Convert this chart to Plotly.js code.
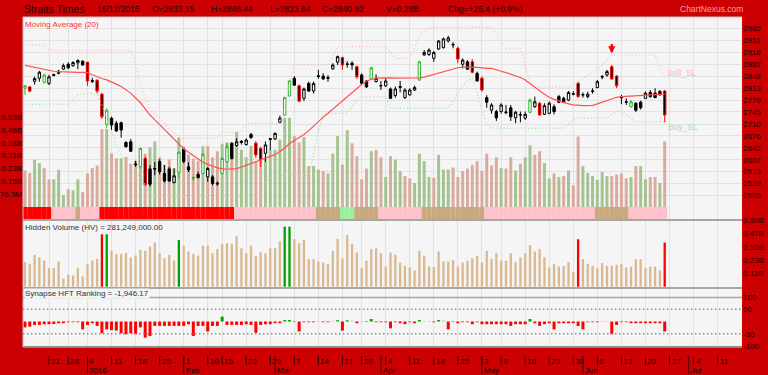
<!DOCTYPE html>
<html><head><meta charset="utf-8">
<script src="https://cdn.plot.ly/plotly-3.0.1.min.js"></script>
<style>html,body{margin:0;padding:0;background:#cc0000;}#chart{width:768px;height:375px;}</style>
</head><body><div id="chart"></div>
<script>
// ---------------- DATA (trading-day index 0 = 21 Dec 2015) ----------------
const FIRST_DAY = -5;
const open = [2813,2817,2833.15,2842,2830,
 2827,2850,2856,2868,2882, 2878,2886,2891,2888,2835, 2836,2796,2709,2727,2712,
 2714,2657,2659,2595,2587, 2611,2581,2580,2602,2568, 2581,2542,2571,2638,2587,
 2553,2565,2568,2558,2558, 2540,2568,2602,2655,2648, 2657,2651,2680,2655,2640,
 2626,2668,2667,2715,2736, 2791,2842,2820,2784,2827, 2805,2849,2848,2844,2869,
 2888,2901,2883,2885,2875, 2851,2834,2839,2832,2821, 2820,2811,2792,2818,2786,
 2794,2808,2837,2909,2910, 2899,2926,2930,2949,2939, 2928,2882,2889,2889,2856,
 2842,2786,2750,2746,2746, 2745,2757,2728,2737,2727, 2744,2760,2770,2738,2741,
 2760,2789,2784,2779,2797, 2827,2795,2789,2804,2815, 2845,2851,2875,2848,2787,
 2774,2760,2770,2773,2784, 2801,2799,2804,2805];
const high = [2822,2819,2846.44,2863,2855,
 2851,2855,2866,2884,2888, 2891,2896,2893,2889,2843, 2839,2800,2755,2731,2719,
 2717,2661,2667,2604,2642, 2616,2592,2601,2609,2592, 2587,2582,2630,2642,2600,
 2560,2573,2626,2586,2563, 2545,2616,2655,2658,2669, 2664,2669,2685,2661,2645,
 2660,2670,2686,2734,2789, 2837,2848,2824,2815,2832, 2832,2866,2856,2851,2885,
 2907,2904,2891,2891,2878, 2856,2837,2875,2853,2834, 2843,2815,2818,2834,2813,
 2813,2821,2892,2923,2928, 2920,2952,2959,2964,2946, 2933,2899,2894,2897,2861,
 2847,2793,2770,2751,2770, 2765,2765,2748,2746,2746, 2784,2789,2773,2770,2775,
 2767,2794,2789,2805,2805, 2832,2801,2803,2813,2837, 2851,2866,2880,2851,2794,
 2784,2779,2773,2777,2804, 2808,2813,2808,2808];
const low = [2794,2802,2823.64,2832,2827,
 2822,2847,2853,2866,2868, 2875,2868,2878,2820,2828, 2798,2725,2698,2693,2688,
 2671,2642,2630,2587,2582, 2533,2530,2563,2565,2542, 2544,2539,2554,2597,2572,
 2548,2553,2565,2544,2534, 2533,2565,2598,2608,2645, 2651,2648,2668,2613,2587,
 2602,2635,2664,2712,2734, 2789,2820,2773,2776,2803, 2798,2840,2837,2832,2866,
 2880,2866,2872,2866,2840, 2824,2814,2837,2830,2808, 2817,2782,2786,2801,2782,
 2792,2805,2834,2906,2906, 2889,2923,2927,2945,2928, 2885,2870,2866,2856,2832,
 2803,2757,2740,2719,2740, 2738,2719,2712,2715,2722, 2741,2757,2734,2736,2738,
 2738,2770,2770,2776,2793, 2786,2786,2784,2798,2813, 2839,2846,2837,2813,2767,
 2765,2757,2745,2752,2782, 2786,2786,2792,2715];
const close = [2820,2805,2840.92,2859,2851,
 2846,2852,2862,2878,2872, 2887,2893,2880,2834,2833, 2805,2731,2750,2707,2690,
 2693,2645,2632,2593,2640, 2535,2537,2582,2573,2546, 2546,2561,2629,2602,2578,
 2556,2556,2623,2582,2539, 2538,2611,2645,2611,2659, 2660,2664,2671,2621,2607,
 2650,2666,2683,2727,2786, 2834,2822,2776,2811,2805, 2827,2847,2840,2842,2880,
 2904,2880,2882,2880,2846, 2827,2817,2872,2842,2820, 2834,2784,2811,2816,2808,
 2808,2815,2889,2916,2923, 2916,2949,2955,2958,2938, 2897,2894,2868,2859,2834,
 2808,2773,2765,2728,2765, 2743,2731,2744,2736,2738, 2779,2774,2736,2763,2770,
 2746,2773,2773,2801,2796, 2789,2794,2796,2805,2832, 2847,2861,2840,2820,2786,
 2773,2774,2750,2757,2799, 2789,2786,2794,2736];
// candle marking as drawn: w = hollow black, b = filled black, g = hollow green, r = filled red-outlined
const candleKind = ("grwwg"+"wbwwb"+"wwbrb"+"rrgbb"+"bbbbg"+"rbbbb"+"bwgbb"+"gbgwb"+"bggbw"+"bwbrr"+
 "wbwwg"+"gbrwb"+"wbbbw"+"wrbbr"+"bbgwb"+"wbwbw"+"wwgww"+"wwwwb"+"rwbrb"+"rbwbw"+
 "bbwbw"+"gwrww"+"bbbwb"+"rbwbw"+"bwrrb"+"bgbbw"+"bbbr").split("");
// volume in millions of shares
const volume = [217,202,281,260,231,
 164,164,222,70,105, 99,164,90,199,231, 246,462,462,318,289,
 289,298,257,275,325, 316,354,389,295,251, 281,231,412,360,310,
 287,275,360,362,295, 331,375,383,378,447, 340,295,362,272,304,
 295,339,339,400,529, 529,420,383,415,243, 243,222,213,199,316,
 421,251,456,378,301, 164,228,331,339,295, 178,301,281,213,184,
 170,143,316,272,178, 173,310,222,222,234, 178,213,228,251,272,
 216,316,246,295,231, 228,295,216,257,295, 366,310,331,260,170,
 199,178,184,216,129, 418,243,202,184,161, 208,184,184,193,199,
 170,178,243,243,164, 178,178,143,389];
const ma20 = [2879,2876,2873,2870,2867,
 2864,2862,2861,2860,2859, 2859,2859,2859,2858,2852, 2846,2841,2837,2832,2825,
 2818,2809,2799,2785,2772, 2754,2736,2722,2708,2695, 2681,2667,2653,2639,2629,
 2619,2608,2600,2594,2589, 2584,2582,2580,2581,2582, 2586,2591,2596,2601,2606,
 2610,2615,2622,2631,2641, 2654,2663,2670,2680,2691, 2704,2718,2730,2741,2753,
 2764,2775,2787,2800,2813, 2824,2833,2839,2842,2843, 2843,2843,2842,2842,2842,
 2842,2842,2843,2845,2849, 2853,2858,2862,2866,2869, 2872,2874,2875,2874,2873,
 2871,2870,2870,2867,2862, 2858,2854,2850,2844,2837, 2826,2815,2806,2796,2787,
 2781,2776,2771,2768,2765, 2763,2763,2763,2764,2768, 2773,2778,2782,2787,2789,
 2790,2791,2792,2793,2794, 2794,2795,2795,2796];
const sellSL = [2938,2938,2938,2938,2938,
 2924,2922,2922,2922,2922, 2922,2922,2922,2922,2922, 2922,2922,2922,2922,2922,
 2922,2922,2922,2880,2825, 2785,2756,2740,2725,2712, 2698,2685,2672,2670,2670,
 2670,2670,2670,2670,2670, 2670,2686,2686,2686,2686, 2686,2712,2712,2712,2712,
 2712,2712,2712,2712,2760, 2830,2880,2880,2880,2880, 2880,2880,2880,2880,2905,
 2933,2933,2933,2933,2933, 2933,2933,2933,2933,2933, 2933,2915,2899,2899,2899,
 2899,2930,2966,2978,2985, 2990,2990,2990,2990,2990, 2990,2990,2990,2990,2990,
 2990,2990,2990,2965,2945, 2928,2928,2928,2928,2880, 2830,2817,2817,2817,2817,
 2817,2817,2817,2817,2822, 2832,2840,2850,2858,2866, 2878,2893,2909,2909,2909,
 2909,2909,2909,2909,2909, 2909,2909,2870,2846];
const buySL = [2767,2767,2767,2767,2767,
 2767,2767,2767,2767,2767, 2782,2795,2798,2798,2798, 2795,2765,2725,2685,2650,
 2620,2605,2592,2575,2555, 2535,2505,2505,2505,2505, 2505,2505,2505,2505,2505,
 2505,2505,2505,2505,2505, 2505,2505,2505,2505,2505, 2505,2505,2505,2505,2505,
 2540,2563,2563,2563,2563, 2563,2563,2563,2563,2563, 2620,2690,2736,2741,2741,
 2741,2741,2741,2760,2780, 2789,2789,2789,2789,2789, 2789,2755,2755,2755,2755,
 2755,2755,2755,2755,2755, 2755,2755,2755,2755,2775, 2800,2820,2835,2842,2800,
 2750,2710,2698,2698,2698, 2698,2698,2698,2698,2698, 2698,2698,2698,2698,2698,
 2698,2698,2698,2712,2722, 2727,2727,2727,2727,2727, 2727,2727,2740,2746,2746,
 2735,2725,2717,2717,2717, 2717,2717,2717,2717];
const synapse = [-24,-21,-14,-14,-11,
 -11,-10,-7,-7,-3, -3,-3,-32,-14,-7, -18,-48,-32,-35,-37,
 -48,-52,-48,-52,-24, -66,-59,-18,-18,-18, -18,-18,-18,-18,-11,
 -59,-18,-18,-41,-18, -18,20,-14,-14,-14, -14,-11,-14,-46,-14,
 -11,-11,-7,-7,6, 6,-2,-41,-3,-3, -3,2,-3,-3,3,
 5,-37,5,3,-7, 2,-2,10,-3,-3, -3,-28,-3,-7,-11,
 -3,-7,6,2,2, -3,6,4,-32,-2, -7,-3,-3,-11,-3,
 -11,-11,-11,-11,-11, -11,-18,-11,-11,-11, 10,-7,-18,-11,-7,
 -32,-7,-7,-7,-7, -18,-32,-3,-3,-3, 2,2,-52,-14,-3,
 -3,-7,-7,-7,-7, -7,-7,-7,-41];
const hvRedDays = [11,110,128];
const hvGreenDays = [12,27,49,50];
const sellSignalDays = [117];
const sellSignalPrice = [2913];
// regime strip: [state, first day, last day]
const stripRuns = [['R',-5,0],['P',1,5],['T',6,6],['P',7,10],['R',11,38],['P',39,55],['T',56,60],
 ['G',61,63],['T',64,68],['P',69,77],['T',78,90],['P',91,113],['T',114,120],['P',121,128]];
const weekTickDays = [0,4,8,13,18,23,28,33,36,41,46,51,56,61,65,70,75,80,85,90,94,99,104,109,114,119,124,129,134,139];
const weekTickLabels = ['21','28','4','11','18','25','1','10','15','22','29','7','14','21','28','4','11','18','25','3','9','16','23','30','6','13','20','27','4','11'];
const monthTickDays = [8,28,47,69,90,111,133];
const monthTickLabels = ['2016','Feb','Mar','Apr','May','Jun','Jul'];
const priceTicks = [3019,2985,2951,2916,2882,2848,2813,2779,2745,2710,2676,2642,2607,2573,2539,2505];
const volTickValues = [76.3,152.6,228.9,305.2,381.5,457.8,534.1];
const volTickLabels = ['76.3M','0.15B','0.23B','0.31B','0.38B','0.46B','0.53B'];
const hvTickValues = [117.5,235,352.5,470,587.5];
const hvTickLabels = ['0.12B','0.23B','0.35B','0.47B','0.59B'];
const synTicks = [100,50,-50,-100];
const headerItems = [['Straits Times',23,10.5],['16/12/2015',96,8.5],['O=2833.15',151,8.5],['H=2846.44',210,8.5],
 ['L=2823.64',269,8.5],['C=2840.92',321,8.5],['V=0.28B',385,8.5],['Chg=+25.4 (+0.9%)',447,8.5]];

// ---------------- LAYOUT GEOMETRY ----------------
const L=23, R=742, T=17, B=347, HH=B-T, WW=R-L;
const py = p => (B-p)/HH;
const pxx = p => (p-L)/WW;
const X_RANGE = [-5.405, 144.07];
const PRICE_RANGE = [2433.9, 3018.1];
const VOL_RANGE = [-77.1, 1127.3];
const HV_RANGE = [-11.5, 588];
const SYN_RANGE = [-104, 136.7];
const FONT = 'Liberation Sans, Arial, sans-serif';
const INK = '#1e0000';

const days = close.map((_, i) => i + FIRST_DAY);
const UP_VOL = '#a4c391', DOWN_VOL = '#d9ab9c';
const volColors = close.map((c, i) => (i > 0 && c > close[i-1]) ? UP_VOL : DOWN_VOL);
const STRIP_COLORS = {R:'#ff0000', P:'#ffc2cc', T:'#c9a97f', G:'#9cef9c'};
const stripColors = days.map(d => STRIP_COLORS[stripRuns.find(r => d >= r[1] && d <= r[2])[0]]);
const hvColors = days.map(d => hvRedDays.includes(d) ? '#ff0000' : (hvGreenDays.includes(d) ? '#00a000' : '#dab992'));
const synColors = synapse.map(v => v < 0 ? '#ff0000' : (v >= 5 ? '#00a400' : '#9ad89a'));

const traces = [];
traces.push({type:'bar', x:days, y:volume, xaxis:'x', yaxis:'y', width:0.62,
  marker:{color:volColors, line:{width:0}}, hoverinfo:'skip'});
traces.push({type:'bar', x:days, y:days.map(() => -VOL_RANGE[0]), base:VOL_RANGE[0], xaxis:'x', yaxis:'y', width:1.04,
  marker:{color:stripColors, line:{width:0}}, hoverinfo:'skip'});
traces.push({type:'scatter', mode:'lines', x:days, y:sellSL, xaxis:'x', yaxis:'y2', line:{color:'#ffb8c2', width:1.3, dash:'1px,2.5px'}, hoverinfo:'skip'});
traces.push({type:'scatter', mode:'lines', x:days, y:buySL, xaxis:'x', yaxis:'y2', line:{color:'#a2e6a2', width:1.3, dash:'1px,2.5px'}, hoverinfo:'skip'});
traces.push({type:'scatter', mode:'lines', x:days, y:ma20, xaxis:'x', yaxis:'y2', line:{color:'#ff5252', width:1.2}, hoverinfo:'skip'});
const KIND_STYLE = {w:['#000000','#ffffff'], b:['#000000','#000000'], g:['#2ab52a','#ffffff'], r:['#ff0000','#000000']};
Object.keys(KIND_STYLE).forEach(k => {
  const ids = days.map((d, i) => i).filter(i => candleKind[i] === k);
  const st = {line:{color:KIND_STYLE[k][0], width:1}, fillcolor:KIND_STYLE[k][1]};
  traces.push({type:'candlestick', x:ids.map(i => days[i]), open:ids.map(i => open[i]), high:ids.map(i => high[i]),
    low:ids.map(i => low[i]), close:ids.map(i => close[i]), xaxis:'x', yaxis:'y2',
    increasing:st, decreasing:st, whiskerwidth:0, hoverinfo:'skip'});
});
traces.push({type:'bar', x:days, y:volume, xaxis:'x', yaxis:'y3', width:0.48,
  marker:{color:hvColors, line:{width:0}}, hoverinfo:'skip'});
traces.push({type:'bar', x:days, y:synapse, xaxis:'x', yaxis:'y4', width:0.62,
  marker:{color:synColors, line:{width:0}}, hoverinfo:'skip'});

// ---------------- SHAPES & ANNOTATIONS ----------------
const shapes = [];
const hline = (p, color, w) => shapes.push({type:'line', xref:'paper', yref:'paper', x0:0, x1:1, y0:py(p), y1:py(p), line:{color:color, width:w}});
hline(17, '#c4c4c4', 1);
hline(220, '#a6a6a6', 2);
hline(288, '#a6a6a6', 2);
hline(297.5, '#a6a6a6', 1.5);
hline(347, '#8c8c8c', 2);
shapes.push({type:'line', xref:'paper', yref:'paper', x0:0, x1:0, y0:0, y1:1, line:{color:'#c4c4c4', width:1}});
[50, -50].forEach(v => shapes.push({type:'line', xref:'paper', yref:'y4', x0:0, x1:1, y0:v, y1:v, line:{color:'#8f8f8f', width:1.3, dash:'1.5px,2.5px'}}));
weekTickDays.forEach(d => shapes.push({type:'line', xref:'x', yref:'paper', x0:d, x1:d, y0:py(356), y1:py(365), line:{color:'#3a0000', width:1}}));
monthTickDays.forEach(d => shapes.push({type:'line', xref:'x', yref:'paper', x0:d, x1:d, y0:py(356), y1:py(374), line:{color:'#3a0000', width:1}}));

const annotations = [];
const note = (text, x, y, size, color, extra) => annotations.push(Object.assign({text:text, xref:'paper', yref:'paper', x:pxx(x), y:py(y),
  xanchor:'left', yanchor:'middle', showarrow:false, borderpad:0, font:{family:FONT, size:size, color:color}}, extra || {}));
headerItems.forEach(h => note(h[0], h[1], 9, h[2], '#2a0000'));
note('ChartNexus.com', 679, 9, 8.5, '#f2a2a2');
note('Moving Average (20)', 24, 24, 8, '#ff3030');
note('Hidden Volume (HV) = 281,249,000.00', 24, 227, 8, '#333333');
note('Synapse HFT Ranking = -1,946.17', 24, 293, 8, '#333333', {bgcolor:'#f4f4f4'});
weekTickDays.forEach((d, i) => annotations.push({text:weekTickLabels[i], xref:'x', yref:'paper', x:d, y:py(361.5), xanchor:'left', yanchor:'middle',
  xshift:1, showarrow:false, borderpad:0, font:{family:FONT, size:8, color:INK}}));
monthTickDays.forEach((d, i) => annotations.push({text:monthTickLabels[i], xref:'x', yref:'paper', x:d, y:py(370.5), xanchor:'left', yanchor:'middle',
  xshift:1, showarrow:false, borderpad:0, font:{family:FONT, size:8, color:INK}}));
const last = days.length - 1;
annotations.push({text:'Sell_SL', xref:'x', yref:'y2', x:days[last], y:sellSL[last], xanchor:'left', yanchor:'middle', xshift:1, yshift:4,
  showarrow:false, borderpad:0, font:{family:FONT, size:8.5, color:'#ffb3bd'}});
annotations.push({text:'Buy_SL', xref:'x', yref:'y2', x:days[last], y:buySL[last], xanchor:'left', yanchor:'middle', xshift:2, yshift:-5,
  showarrow:false, borderpad:0, font:{family:FONT, size:8.5, color:'#a8e0a8'}});
sellSignalDays.forEach((d, i) => annotations.push({text:'', xref:'x', yref:'y2', x:d, y:sellSignalPrice[i], ax:0, ay:-11,
  showarrow:true, arrowhead:2, arrowsize:0.65, arrowwidth:2.2, arrowcolor:'#ff0000'}));

const tickFont = {family:FONT, size:8, color:INK};
const layout = {
  width:768, height:375,
  margin:{l:L, r:768-R, t:T, b:375-B, pad:0, autoexpand:false},
  paper_bgcolor:'#cc0000', plot_bgcolor:'#f5f5f5',
  showlegend:false, barmode:'overlay', hovermode:false, dragmode:false,
  font:{family:FONT, size:8, color:INK},
  xaxis:{range:X_RANGE, tickvals:weekTickDays, showticklabels:false, ticks:'', showgrid:true, gridcolor:'#e2e2e2',
    zeroline:false, showline:false, rangeslider:{visible:false}, anchor:'y4', fixedrange:true},
  yaxis:{domain:[py(220), 1], range:VOL_RANGE, tickvals:volTickValues, ticktext:volTickLabels, side:'left',
    showgrid:false, zeroline:false, ticks:'', tickfont:tickFont, anchor:'x', fixedrange:true},
  yaxis2:{overlaying:'y', side:'right', range:PRICE_RANGE, tickvals:priceTicks, ticktext:priceTicks.map(String),
    showgrid:true, gridcolor:'#e2e2e2', zeroline:false, ticks:'', tickfont:tickFont, anchor:'x', fixedrange:true},
  yaxis3:{domain:[py(288), py(220)], range:HV_RANGE, side:'right', tickvals:hvTickValues, ticktext:hvTickLabels,
    showgrid:false, zeroline:false, ticks:'', tickfont:tickFont, anchor:'x', fixedrange:true},
  yaxis4:{domain:[0, py(288)], range:SYN_RANGE, side:'right', tickvals:synTicks, ticktext:synTicks.map(String),
    showgrid:false, zeroline:false, ticks:'', tickfont:tickFont, anchor:'x', fixedrange:true},
  shapes:shapes, annotations:annotations
};
Plotly.newPlot('chart', traces, layout, {staticPlot:true, displayModeBar:false});
</script></body></html>
